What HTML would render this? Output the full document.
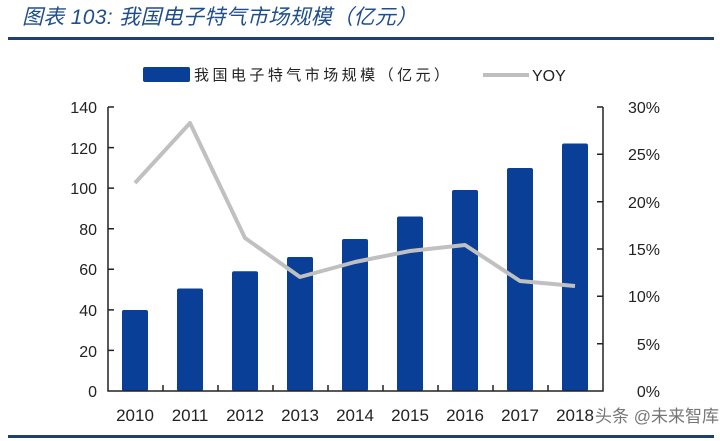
<!DOCTYPE html>
<html><head><meta charset="utf-8"><style>
body{margin:0;background:#fff;width:720px;height:441px;overflow:hidden}
svg{display:block}
text{font-family:"Liberation Sans","Noto Sans CJK SC",sans-serif}
</style></head><body>
<svg width="720" height="441" viewBox="0 0 720 441">
<text x="22" y="24" font-size="21" font-style="italic" fill="#1f4e8c" font-family="Liberation Serif, Noto Serif CJK SC, serif" textLength="395">图表 103:  我国电子特气市场规模（亿元）</text>
<rect x="8" y="37" width="706" height="3" fill="#1f3f6e"/>
<rect x="8" y="435" width="706" height="3" fill="#1f3f6e"/>
<rect x="143" y="67" width="47" height="15" rx="2" fill="#0a3f97"/>
<text x="194" y="80" font-size="15" fill="#222" textLength="255">我国电子特气市场规模（亿元）</text>
<rect x="483" y="73" width="46" height="4" fill="#bfbfbf"/>
<text x="532" y="81" font-size="16" fill="#222">YOY</text>
<g fill="#0a3f97">
<rect x="122" y="310" width="26" height="81" rx="2"/>
<rect x="177" y="288.5" width="26" height="102.5" rx="2"/>
<rect x="232" y="271.3" width="26" height="119.7" rx="2"/>
<rect x="287" y="257" width="26" height="134" rx="2"/>
<rect x="342" y="239" width="26" height="152" rx="2"/>
<rect x="397" y="216.5" width="26" height="174.5" rx="2"/>
<rect x="452" y="190" width="26" height="201" rx="2"/>
<rect x="507" y="168" width="26" height="223" rx="2"/>
<rect x="562" y="143.5" width="26" height="247.5" rx="2"/>
</g>
<g stroke="#222" stroke-width="1.5" fill="none">
<path d="M108 107V391H603V107"/>
<path d="M108 107h6M108 147.6h6M108 188.1h6M108 228.7h6M108 269.3h6M108 309.9h6M108 350.4h6"/>
<path d="M603 107h-6M603 154.3h-6M603 201.7h-6M603 249h-6M603 296.3h-6M603 343.7h-6"/>
<path d="M163 391v-6M218 391v-6M273 391v-6M328 391v-6M383 391v-6M438 391v-6M493 391v-6M548 391v-6"/>
</g>
<polyline points="135,183 190,123 245,238 300,277 355,262 410,251 465,245 520,281 575,286" fill="none" stroke="#c0c0c0" stroke-width="4" stroke-linejoin="round"/>
<g font-size="16" fill="#222" text-anchor="end">
<text x="97" y="113">140</text><text x="97" y="154">120</text><text x="97" y="194">100</text>
<text x="97" y="235">80</text><text x="97" y="275">60</text><text x="97" y="316">40</text>
<text x="97" y="357">20</text><text x="97" y="397">0</text>
</g>
<g font-size="16" fill="#222" text-anchor="end">
<text x="660" y="113">30%</text><text x="660" y="160">25%</text><text x="660" y="208">20%</text>
<text x="660" y="255">15%</text><text x="660" y="302">10%</text><text x="660" y="350">5%</text>
<text x="660" y="397">0%</text>
</g>
<g font-size="17" fill="#222" text-anchor="middle" font-family="Liberation Serif, serif">
<text x="135" y="421">2010</text><text x="190" y="421">2011</text><text x="245" y="421">2012</text>
<text x="300" y="421">2013</text><text x="355" y="421">2014</text><text x="410" y="421">2015</text>
<text x="465" y="421">2016</text><text x="520" y="421">2017</text><text x="575" y="421">2018</text>
</g>
<text x="595" y="422" font-size="17" fill="#555" opacity="0.8">头条 @未来智库</text>
</svg>
</body></html>
